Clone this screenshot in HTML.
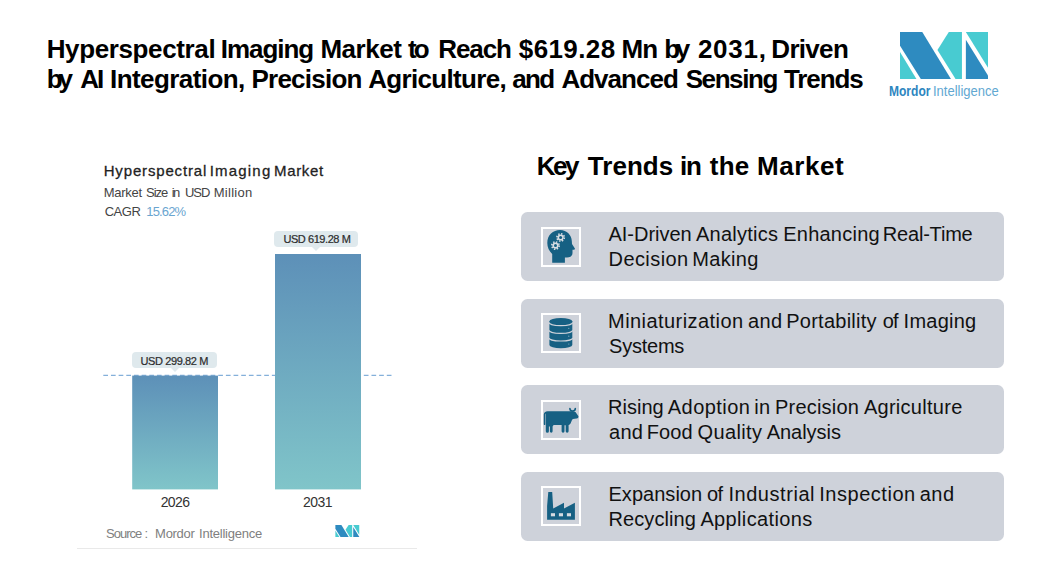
<!DOCTYPE html>
<html><head><meta charset="utf-8">
<style>
html,body{margin:0;padding:0;background:#fff;}
body{width:1056px;height:588px;position:relative;overflow:hidden;font-family:"Liberation Sans",sans-serif;color:#000;}
.abs{position:absolute;white-space:nowrap;}
.w{position:absolute;white-space:nowrap;}
.card{position:absolute;left:521px;width:483px;height:69px;background:#ced2da;border-radius:6.5px;}
.ibox{position:absolute;left:20px;top:14px;width:40px;height:40px;}
.lbl{position:absolute;background:#dfe9ed;border-radius:4px;height:16px;font-size:11px;font-weight:bold;color:#333;text-align:center;line-height:16px;}
.lbl:after{content:"";position:absolute;left:50%;margin-left:-4px;top:16px;border-left:4px solid transparent;border-right:4px solid transparent;border-top:4px solid #dfe9ed;}
.bar{position:absolute;background:linear-gradient(#5b8db8,#80c5c9);}
</style></head><body>

<svg class="abs" style="left:900px;top:31.6px" width="88" height="47.2" viewBox="0 0 862 462"><defs><g id="mi">
<polygon fill="#2e8bc0" points="0,0 218,0 500,462 205,462 0,135"/>
<polygon fill="#48cbd1" points="0,195 0,462 162,462"/>
<polygon fill="#48cbd1" points="478,0 607,0 607,462 545,462 367,175"/>
<polygon fill="#48cbd1" points="645,0 862,0 862,350"/>
<polygon fill="#2e8bc0" points="645,75 645,462 862,462 862,425"/>
</g></defs><use href="#mi"/></svg>

<!-- chart -->

<svg class="abs" style="left:0;top:0" width="528" height="588">
<defs><linearGradient id="bg" x1="0" y1="0" x2="0" y2="1"><stop offset="0" stop-color="#5d90b8"/><stop offset="1" stop-color="#80c5c9"/></linearGradient></defs>
<line x1="103.3" y1="375.4" x2="392" y2="375.4" stroke="#84b0da" stroke-width="1.3" stroke-dasharray="4.7 2.962"/>
<rect x="132.2" y="375.6" width="85.8" height="113.8" fill="url(#bg)"/>
<rect x="275" y="254" width="86" height="235.4" fill="url(#bg)"/>
</svg>
<div class="lbl" id="l1" style="left:132px;top:352.3px;width:85px;"></div>
<div class="lbl" id="l2" style="left:274px;top:230.6px;width:84.3px;"></div>
<svg class="abs" style="left:335.4px;top:524.6px" width="24.6" height="12.8" viewBox="0 0 862 462"><use href="#mi"/></svg>
<div class="abs" style="left:77px;top:548px;width:340px;height:1px;background:#e9e9e9;"></div>

<!-- right cards -->
<div class="card" style="top:212px"><svg class="ibox" style="top:15px" viewBox="0 0 40 40"><rect x="1" y="1" width="38" height="38" fill="none" stroke="#fff" stroke-width="2"/><path fill="#166083" d="M11.2 35.7 L11.2 27 C8 24 6.3 20 6.3 16 C6.3 8 12 3 19 3 C26 3 30.5 8 30.8 14 L31 17 L33.9 21.5 C34 22.5 33 22.8 31.5 22.8 L31.5 26 C31.5 29 29 30.6 26 30.6 L23.9 30.6 L23.9 35.7 Z"/>
<g fill="#d9dee4" stroke="#d9dee4"><circle cx="19.6" cy="10.5" r="3.1" stroke="none"/><circle cx="19.6" cy="10.5" r="3.7" fill="none" stroke-width="1.6" stroke-dasharray="1.45 1.456"/><circle cx="14.5" cy="18.6" r="3.1" stroke="none"/><circle cx="14.5" cy="18.6" r="3.7" fill="none" stroke-width="1.6" stroke-dasharray="1.45 1.456"/></g>
<circle cx="19.6" cy="10.5" r="1.5" fill="#166083"/><circle cx="14.5" cy="18.6" r="1.5" fill="#166083"/></svg></div>
<div class="card" style="top:299px"><svg class="ibox" viewBox="0 0 40 40"><rect x="1" y="1" width="38" height="38" fill="none" stroke="#fff" stroke-width="2"/><path fill="#166083" d="M8.4 8.2 A11.45 3.1 0 0 1 31.3 8.2 L31.3 32.1 A11.45 3.1 0 0 1 8.4 32.1 Z"/>
<g fill="none" stroke="#ced2da" stroke-width="1.2"><path d="M8 9.6 A11.85 3.1 0 0 0 31.7 9.6"/><path d="M8 17.3 A11.85 3.1 0 0 0 31.7 17.3"/><path d="M8 24.9 A11.85 3.1 0 0 0 31.7 24.9"/></g>
<g fill="#8fb0c4"><circle cx="27.8" cy="15.3" r=".6"/><circle cx="27.8" cy="23.2" r=".6"/><circle cx="27.8" cy="31" r=".6"/></g></svg></div>
<div class="card" style="top:385px"><svg class="ibox" style="top:15px" viewBox="0 0 40 40"><rect x="1" y="1" width="38" height="38" fill="none" stroke="#fff" stroke-width="2"/><path fill="#166083" d="M6.6 11.2 L30 11.2 L34.5 12 L37.4 16.3 C37.6 17.5 36.8 18.6 35.5 18.4 L32 18.9 C31 19.5 30.5 21 29.8 23 C29 24.5 28 25 27.6 25 L27.6 31.3 A1.45 1.45 0 0 1 24.7 31.3 L24.7 25.2 L23.5 25.2 L23.5 31.3 A1.45 1.45 0 0 1 20.6 31.3 L20.6 25 L12.6 25 L11.6 26.5 L11.6 31.3 A1.35 1.35 0 0 1 8.9 31.3 L8.9 26.5 L7.9 26.5 L7.9 31.3 A1.55 1.55 0 0 1 4.8 31.3 L4.8 13.4 C4.4 13.6 4.3 14 4.3 14.6 L4.3 24.2 C4.3 25.4 2.8 25.4 2.8 24.2 L2.8 14.5 C2.8 12.5 4.4 11.2 6.6 11.2 Z"/>
<path fill="none" stroke="#166083" stroke-width="1.6" stroke-linecap="round" d="M28.9 8.6 C28.9 12 34.3 12 34.3 8.6"/></svg></div>
<div class="card" style="top:472px"><svg class="ibox" viewBox="0 0 40 40"><rect x="1" y="1" width="38" height="38" fill="none" stroke="#fff" stroke-width="2"/><path fill="#166083" d="M7.3 6.1 L11.2 6.1 L12.2 22.4 L23 16.7 L23 22.4 L33.9 16.7 L33.9 33.7 L6.1 33.7 L6.1 20 Z"/>
<g fill="#d6dbe1"><rect x="9.9" y="27.2" width="4.1" height="3.1"/><rect x="17.9" y="27.2" width="4.1" height="3.1"/><rect x="25.9" y="27.2" width="4.1" height="3.1"/></g></svg></div>

<span class="w" style="left:46.70px;top:35.99px;font-size:26.0px;line-height:26.0px;font-weight:bold;color:#000;letter-spacing:-0.375px;">Hyperspectral</span>
<span class="w" style="left:220.80px;top:35.99px;font-size:26.0px;line-height:26.0px;font-weight:bold;color:#000;letter-spacing:-1.048px;">Imaging</span>
<span class="w" style="left:320.40px;top:35.99px;font-size:26.0px;line-height:26.0px;font-weight:bold;color:#000;letter-spacing:-0.451px;">Market</span>
<span class="w" style="left:408.00px;top:35.99px;font-size:26.0px;line-height:26.0px;font-weight:bold;color:#000;letter-spacing:-2.858px;">to</span>
<span class="w" style="left:438.30px;top:35.99px;font-size:26.0px;line-height:26.0px;font-weight:bold;color:#000;letter-spacing:-1.089px;">Reach</span>
<span class="w" style="left:518.80px;top:35.99px;font-size:26.0px;line-height:26.0px;font-weight:bold;color:#000;letter-spacing:0.396px;">$619.28</span>
<span class="w" style="left:621.60px;top:35.99px;font-size:26.0px;line-height:26.0px;font-weight:bold;color:#000;letter-spacing:-0.958px;">Mn</span>
<span class="w" style="left:664.20px;top:35.99px;font-size:26.0px;line-height:26.0px;font-weight:bold;color:#000;letter-spacing:-4.282px;">by</span>
<span class="w" style="left:697.90px;top:35.99px;font-size:26.0px;line-height:26.0px;font-weight:bold;color:#000;letter-spacing:0.740px;">2031,</span>
<span class="w" style="left:771.30px;top:35.99px;font-size:26.0px;line-height:26.0px;font-weight:bold;color:#000;letter-spacing:-0.688px;">Driven</span>
<span class="w" style="left:46.70px;top:65.99px;font-size:26.0px;line-height:26.0px;font-weight:bold;color:#000;letter-spacing:-4.082px;">by</span>
<span class="w" style="left:80.30px;top:65.99px;font-size:26.0px;line-height:26.0px;font-weight:bold;color:#000;letter-spacing:-2.076px;">AI</span>
<span class="w" style="left:110.00px;top:65.99px;font-size:26.0px;line-height:26.0px;font-weight:bold;color:#000;letter-spacing:-0.575px;">Integration,</span>
<span class="w" style="left:251.50px;top:65.99px;font-size:26.0px;line-height:26.0px;font-weight:bold;color:#000;letter-spacing:-0.771px;">Precision</span>
<span class="w" style="left:368.20px;top:65.99px;font-size:26.0px;line-height:26.0px;font-weight:bold;color:#000;letter-spacing:-0.671px;">Agriculture,</span>
<span class="w" style="left:512.30px;top:65.99px;font-size:26.0px;line-height:26.0px;font-weight:bold;color:#000;letter-spacing:-1.671px;">and</span>
<span class="w" style="left:561.40px;top:65.99px;font-size:26.0px;line-height:26.0px;font-weight:bold;color:#000;letter-spacing:-0.969px;">Advanced</span>
<span class="w" style="left:685.70px;top:65.99px;font-size:26.0px;line-height:26.0px;font-weight:bold;color:#000;letter-spacing:-1.425px;">Sensing</span>
<span class="w" style="left:784.00px;top:65.99px;font-size:26.0px;line-height:26.0px;font-weight:bold;color:#000;letter-spacing:-1.118px;">Trends</span>
<span class="w" style="left:536.80px;top:153.19px;font-size:26.0px;line-height:26.0px;font-weight:bold;color:#000;letter-spacing:-2.518px;">Key</span>
<span class="w" style="left:587.80px;top:153.19px;font-size:26.0px;line-height:26.0px;font-weight:bold;color:#000;letter-spacing:0.042px;">Trends</span>
<span class="w" style="left:679.90px;top:153.19px;font-size:26.0px;line-height:26.0px;font-weight:bold;color:#000;letter-spacing:-1.224px;">in</span>
<span class="w" style="left:709.70px;top:153.19px;font-size:26.0px;line-height:26.0px;font-weight:bold;color:#000;letter-spacing:0.280px;">the</span>
<span class="w" style="left:757.10px;top:153.19px;font-size:26.0px;line-height:26.0px;font-weight:bold;color:#000;letter-spacing:0.569px;">Market</span>
<span class="w" style="left:608.50px;top:223.97px;font-size:20.0px;line-height:20.0px;color:#111;letter-spacing:-0.028px;">AI-Driven</span>
<span class="w" style="left:696.00px;top:223.97px;font-size:20.0px;line-height:20.0px;color:#111;letter-spacing:0.246px;">Analytics</span>
<span class="w" style="left:783.20px;top:223.97px;font-size:20.0px;line-height:20.0px;color:#111;letter-spacing:0.238px;">Enhancing</span>
<span class="w" style="left:882.80px;top:223.97px;font-size:20.0px;line-height:20.0px;color:#111;letter-spacing:-0.196px;">Real-Time</span>
<span class="w" style="left:608.50px;top:248.87px;font-size:20.0px;line-height:20.0px;color:#111;letter-spacing:0.432px;">Decision</span>
<span class="w" style="left:692.20px;top:248.87px;font-size:20.0px;line-height:20.0px;color:#111;letter-spacing:0.330px;">Making</span>
<span class="w" style="left:608.10px;top:310.67px;font-size:20.0px;line-height:20.0px;color:#111;letter-spacing:0.434px;">Miniaturization</span>
<span class="w" style="left:748.10px;top:310.67px;font-size:20.0px;line-height:20.0px;color:#111;letter-spacing:0.277px;">and</span>
<span class="w" style="left:786.20px;top:310.67px;font-size:20.0px;line-height:20.0px;color:#111;letter-spacing:0.259px;">Portability</span>
<span class="w" style="left:882.70px;top:310.67px;font-size:20.0px;line-height:20.0px;color:#111;letter-spacing:-0.923px;">of</span>
<span class="w" style="left:903.60px;top:310.67px;font-size:20.0px;line-height:20.0px;color:#111;letter-spacing:0.245px;">Imaging</span>
<span class="w" style="left:609.10px;top:335.57px;font-size:20.0px;line-height:20.0px;color:#111;letter-spacing:-0.247px;">Systems</span>
<span class="w" style="left:608.10px;top:397.27px;font-size:20.0px;line-height:20.0px;color:#111;letter-spacing:-0.011px;">Rising</span>
<span class="w" style="left:667.80px;top:397.27px;font-size:20.0px;line-height:20.0px;color:#111;letter-spacing:0.438px;">Adoption</span>
<span class="w" style="left:754.30px;top:397.27px;font-size:20.0px;line-height:20.0px;color:#111;letter-spacing:0.357px;">in</span>
<span class="w" style="left:775.10px;top:397.27px;font-size:20.0px;line-height:20.0px;color:#111;letter-spacing:0.183px;">Precision</span>
<span class="w" style="left:863.90px;top:397.27px;font-size:20.0px;line-height:20.0px;color:#111;letter-spacing:0.283px;">Agriculture</span>
<span class="w" style="left:609.10px;top:422.17px;font-size:20.0px;line-height:20.0px;color:#111;letter-spacing:0.177px;">and</span>
<span class="w" style="left:646.70px;top:422.17px;font-size:20.0px;line-height:20.0px;color:#111;letter-spacing:0.112px;">Food</span>
<span class="w" style="left:697.50px;top:422.17px;font-size:20.0px;line-height:20.0px;color:#111;letter-spacing:0.359px;">Quality</span>
<span class="w" style="left:766.70px;top:422.17px;font-size:20.0px;line-height:20.0px;color:#111;letter-spacing:-0.025px;">Analysis</span>
<span class="w" style="left:608.50px;top:483.97px;font-size:20.0px;line-height:20.0px;color:#111;letter-spacing:0.028px;">Expansion</span>
<span class="w" style="left:707.00px;top:483.97px;font-size:20.0px;line-height:20.0px;color:#111;letter-spacing:-0.623px;">of</span>
<span class="w" style="left:728.40px;top:483.97px;font-size:20.0px;line-height:20.0px;color:#111;letter-spacing:0.555px;">Industrial</span>
<span class="w" style="left:819.20px;top:483.97px;font-size:20.0px;line-height:20.0px;color:#111;letter-spacing:0.539px;">Inspection</span>
<span class="w" style="left:919.80px;top:483.97px;font-size:20.0px;line-height:20.0px;color:#111;letter-spacing:0.427px;">and</span>
<span class="w" style="left:608.50px;top:508.87px;font-size:20.0px;line-height:20.0px;color:#111;letter-spacing:0.078px;">Recycling</span>
<span class="w" style="left:700.40px;top:508.87px;font-size:20.0px;line-height:20.0px;color:#111;letter-spacing:0.360px;">Applications</span>
<span class="w" style="left:103.70px;top:162.90px;font-size:15.0px;line-height:15.0px;color:#222;letter-spacing:0.842px;-webkit-text-stroke:0.28px #222;">Hyperspectral</span>
<span class="w" style="left:209.70px;top:162.90px;font-size:15.0px;line-height:15.0px;color:#222;letter-spacing:1.196px;-webkit-text-stroke:0.28px #222;">Imaging</span>
<span class="w" style="left:274.10px;top:162.90px;font-size:15.0px;line-height:15.0px;color:#222;letter-spacing:0.625px;-webkit-text-stroke:0.28px #222;">Market</span>
<span class="w" style="left:103.70px;top:185.90px;font-size:13.0px;line-height:13.0px;color:#444;letter-spacing:-0.244px;">Market</span>
<span class="w" style="left:146.10px;top:185.90px;font-size:13.0px;line-height:13.0px;color:#444;letter-spacing:-1.020px;">Size</span>
<span class="w" style="left:171.80px;top:185.90px;font-size:13.0px;line-height:13.0px;color:#444;letter-spacing:-1.688px;">in</span>
<span class="w" style="left:184.90px;top:185.90px;font-size:13.0px;line-height:13.0px;color:#444;letter-spacing:-0.980px;">USD</span>
<span class="w" style="left:213.80px;top:185.90px;font-size:13.0px;line-height:13.0px;color:#444;letter-spacing:0.248px;">Million</span>
<span class="w" style="left:104.70px;top:204.80px;font-size:13.0px;line-height:13.0px;color:#444;letter-spacing:-0.490px;">CAGR</span>
<span class="w" style="left:146.30px;top:204.80px;font-size:13.0px;line-height:13.0px;color:#6aa5d0;letter-spacing:-0.846px;">15.62%</span>
<span class="w" style="left:283.40px;top:233.99px;font-size:11.0px;line-height:11.0px;color:#2d2d2d;letter-spacing:-0.426px;-webkit-text-stroke:0.22px #2d2d2d;">USD 619.28 M</span>
<span class="w" style="left:140.50px;top:355.79px;font-size:11.0px;line-height:11.0px;color:#2d2d2d;letter-spacing:-0.389px;-webkit-text-stroke:0.22px #2d2d2d;">USD 299.82 M</span>
<span class="w" style="left:160.70px;top:495.45px;font-size:14.0px;line-height:14.0px;color:#333;letter-spacing:-0.619px;">2026</span>
<span class="w" style="left:303.00px;top:495.45px;font-size:14.0px;line-height:14.0px;color:#333;letter-spacing:-0.553px;">2031</span>
<span class="w" style="left:106.10px;top:526.90px;font-size:13.0px;line-height:13.0px;color:#808080;letter-spacing:-1.012px;">Source</span>
<span class="w" style="left:144.50px;top:526.90px;font-size:13.0px;line-height:13.0px;color:#808080;letter-spacing:0.000px;">:</span>
<span class="w" style="left:155.10px;top:526.90px;font-size:13.0px;line-height:13.0px;color:#808080;letter-spacing:-0.290px;">Mordor</span>
<span class="w" style="left:199.00px;top:526.90px;font-size:13.0px;line-height:13.0px;color:#808080;letter-spacing:-0.231px;">Intelligence</span>
<span class="w" style="left:889.40px;top:83.85px;font-size:14.0px;line-height:14.0px;font-weight:bold;color:#2e86bf;letter-spacing:0.000px;transform:scaleX(0.8592);transform-origin:0 0;">Mordor</span>
<span class="w" style="left:932.87px;top:83.85px;font-size:14.0px;line-height:14.0px;color:#62a8d2;letter-spacing:0.000px;transform:scaleX(0.9280);transform-origin:0 0;">Intelligence</span>
</body></html>
